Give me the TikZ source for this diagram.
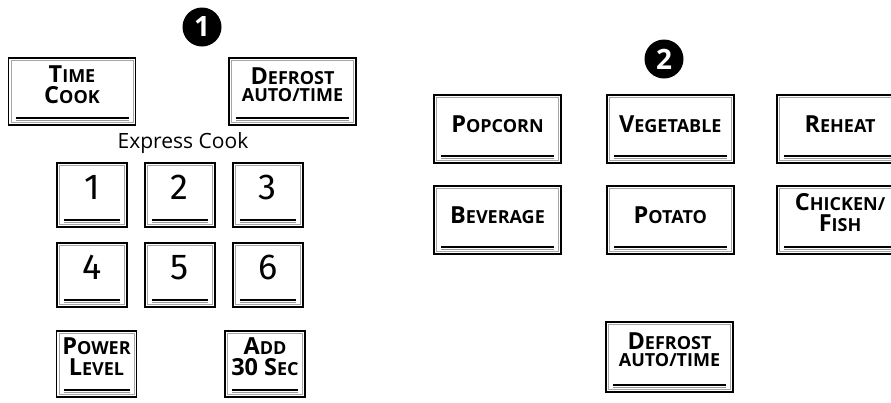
\documentclass[tikz,border=0pt]{standalone}
\usepackage{fontspec}
\setmainfont{Open Sans}
\newfontfamily\keydigits{Fira Sans}
\usetikzlibrary{positioning}

% large initial + small capitals, as on the panel
\newcommand{\kcap}[2]{{\fontsize{23.5}{13}\selectfont #1}{\fontsize{18}{13}\selectfont #2}}
\newcommand{\ksmall}[1]{{\fontsize{18}{13}\selectfont #1}}
% key text, lifted a little above the centre of the key
\newcommand{\keylabel}[2][5pt]{\raisebox{0pt}[\height][\dimexpr\depth+#1\relax]{\begin{tabular}{@{}c@{}}#2\end{tabular}}}

\tikzset{
bevel/.style={path picture={
  \draw[black!35, line width=0.5pt] ([shift={(2.4pt,2.4pt)}]path picture bounding box.south west) rectangle ([shift={(-2.4pt,-2.4pt)}]path picture bounding box.north east);
  \draw[line width=1.9pt] ([shift={(7pt,7pt)}]path picture bounding box.south west) -- ([shift={(-7pt,7pt)}]path picture bounding box.south east);
  \draw[black!40, line width=0.6pt] ([shift={(7pt,4.8pt)}]path picture bounding box.south west) -- ([shift={(-7pt,4.8pt)}]path picture bounding box.south east);
}},
}

\begin{document}
\begin{tikzpicture}[x=1pt, y=-1pt,
button/.style={draw, bevel, line width=1.8pt, inner sep=0pt, minimum width=127pt, minimum height=68pt, font=\fontsize{18}{14.5}\selectfont\bfseries},
numkey/.style={button, minimum width=70pt, minimum height=64pt, font=\keydigits\fontsize{36}{36}\selectfont},
narrow/.style={button, minimum width=80pt, minimum height=66pt},
badge/.style={circle, fill=black, text=white, inner sep=0pt, minimum size=39pt, font=\fontsize{28}{28}\selectfont\bfseries},
]
\useasboundingbox (0,0) rectangle (891,402);

% Group 1
\node[badge] (one) at (202,27) {1};
\node[button, minimum height=67pt] (tcook) at (72,91.5) {\keylabel[10pt]{\kcap{T}{IME}\\\kcap{C}{OOK}}};
\node[button, minimum height=67pt] (defr) at (292.5,91.5) {\keylabel[10pt]{\kcap{D}{EFROST}\\\ksmall{AUTO/TIME}}};
\node[font=\fontsize{21}{21}\selectfont] (xcook) at (183,143) {Express Cook};

\node[numkey] (k1) at (92,195) {\keylabel{1}};
\node[numkey, right=16pt of k1] (k2) {\keylabel{2}};
\node[numkey, right=16pt of k2] (k3) {\keylabel{3}};
\node[numkey, below=14pt of k1] (k4) {\keylabel{4}};
\node[numkey, right=16pt of k4] (k5) {\keylabel{5}};
\node[numkey, right=16pt of k5] (k6) {\keylabel{6}};

\node[narrow] (power) at (96.5,364) {\keylabel[10pt]{\kcap{P}{OWER}\\\kcap{L}{EVEL}}};
\node[narrow] (add) at (265,364) {\keylabel[10pt]{\kcap{A}{DD}\\{\fontsize{23.5}{13}\selectfont 30 }\kcap{S}{EC}}};

% Group 2
\node[badge] (two) at (664,59) {2};
\node[button] (pop) at (497.5,129) {\keylabel{\kcap{P}{OPCORN}}};
\node[button, right=44pt of pop] (veg) {\keylabel{\kcap{V}{EGETABLE}}};
\node[button, right=41pt of veg] (reheat) {\keylabel{\kcap{R}{EHEAT}}};
\node[button, below=21pt of pop] (bev) {\keylabel{\kcap{B}{EVERAGE}}};
\node[button, below=21pt of veg] (potato) {\keylabel{\kcap{P}{OTATO}}};
\node[button, below=21pt of reheat] (chick) {\keylabel[10pt]{\kcap{C}{HICKEN/}\\\kcap{F}{ISH}}};

\node[button, minimum height=70pt] (defr2) at (669.5,357) {\keylabel[10pt]{\kcap{D}{EFROST}\\\ksmall{AUTO/TIME}}};
\end{tikzpicture}
\end{document}
